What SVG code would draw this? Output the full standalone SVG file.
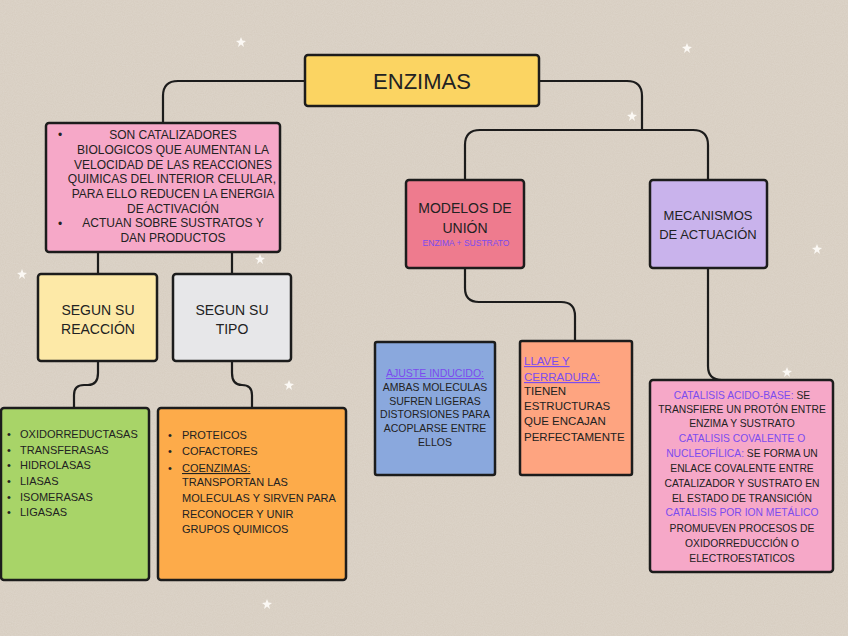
<svg xmlns="http://www.w3.org/2000/svg" width="848" height="636" viewBox="0 0 848 636">
<defs>
<style>
.bx{stroke:#1c1c1c;stroke-width:2.5}
.cn{fill:none;stroke:#1c1c1c;stroke-width:2.2;stroke-linecap:round}
text{font-family:"Liberation Sans",Arial,sans-serif;fill:#222}
.c{text-anchor:middle}
.p{fill:#7b4cef}
.u{text-decoration:underline}
.st{fill:#fbf8f4}
</style>
<filter id="grain" x="0" y="0" width="100%" height="100%">
<feTurbulence type="fractalNoise" baseFrequency="0.9" numOctaves="2" seed="3"/>
<feColorMatrix values="0 0 0 0 1  0 0 0 0 1  0 0 0 0 1  0 0 0 0.18 0"/>
</filter>
<symbol id="star" viewBox="-5 -5 10 10"><path class="st" d="M0,-5 L1.4,-1.4 L5,-1 L2,1.3 L3,5 L0,2.6 L-3,5 L-2,1.3 L-5,-1 L-1.4,-1.4Z"/></symbol>
</defs>
<rect width="848" height="636" fill="#d6ccbf"/>
<rect width="848" height="636" filter="url(#grain)"/>
<g id="decor">
<use href="#star" x="236" y="37" width="10" height="10"/>
<use href="#star" x="682" y="43" width="10" height="10"/>
<use href="#star" x="627" y="111" width="10" height="10"/>
<use href="#star" x="17" y="269" width="10" height="10"/>
<use href="#star" x="255" y="254" width="10" height="10"/>
<use href="#star" x="284" y="380" width="10" height="10"/>
<use href="#star" x="812" y="244" width="10" height="10"/>
<use href="#star" x="782" y="367" width="10" height="10"/>
<use href="#star" x="818" y="526" width="10" height="10"/>
<use href="#star" x="262" y="599" width="10" height="10"/>
</g>
<g id="connectors">
<path class="cn" d="M305,81 H178 Q163,81 163,96 V123"/>
<path class="cn" d="M539,81 H627 Q642,81 642,96 V130"/>
<path class="cn" d="M465,180 V145 Q465,130 480,130 H693 Q708,130 708,145 V180"/>
<path class="cn" d="M98,252 V274"/>
<path class="cn" d="M232,252 V274"/>
<path class="cn" d="M98,361 V373 Q98,385 88,385 H84 Q74,385 74,395 V408"/>
<path class="cn" d="M232,361 V373 Q232,385 242,385 Q252,385 252,395 V408"/>
<path class="cn" d="M465,268 V288 Q465,302 479,302 H561 Q575,302 575,316 V341"/>
<path class="cn" d="M708,268 V366 Q708,380 722,380"/>
</g>
<g id="enzimas">
<rect class="bx" x="305" y="55" width="234" height="51" rx="3" fill="#fbd462"/>
<text class="c" x="422" y="89" font-size="22">ENZIMAS</text>
</g>
<g id="definicion">
<rect class="bx" x="46" y="123" width="234" height="129" rx="3" fill="#f6a8c8"/>
<g font-size="12">
<text x="58" y="139">•</text>
<text x="58" y="228">•</text>
<text class="c" x="173" y="139">SON CATALIZADORES</text>
<text class="c" x="173" y="154">BIOLOGICOS QUE AUMENTAN LA</text>
<text class="c" x="173" y="169">VELOCIDAD DE LAS REACCIONES</text>
<text class="c" x="172" y="183">QUIMICAS DEL INTERIOR CELULAR,</text>
<text class="c" x="173" y="198">PARA ELLO REDUCEN LA ENERGIA</text>
<text class="c" x="173" y="213">DE ACTIVACIÓN</text>
<text class="c" x="173" y="227">ACTUAN SOBRE SUSTRATOS Y</text>
<text class="c" x="173" y="242">DAN PRODUCTOS</text>
</g>
</g>
<g id="segun-reaccion">
<rect class="bx" x="38" y="274" width="119" height="87" rx="3" fill="#fde9a7"/>
<text class="c" x="98" y="315" font-size="14">SEGUN SU</text>
<text class="c" x="98" y="334" font-size="14">REACCIÓN</text>
</g>
<g id="segun-tipo">
<rect class="bx" x="173" y="274" width="118" height="87" rx="3" fill="#e7e7e9"/>
<text class="c" x="232" y="315" font-size="14">SEGUN SU</text>
<text class="c" x="232" y="334" font-size="14">TIPO</text>
</g>
<g id="tipos-reaccion">
<rect class="bx" x="1" y="408" width="148" height="172" rx="3" fill="#a8d468"/>
<g font-size="11">
<text x="7" y="438">•</text><text x="20" y="438">OXIDORREDUCTASAS</text>
<text x="7" y="454">•</text><text x="20" y="454">TRANSFERASAS</text>
<text x="7" y="469">•</text><text x="20" y="469">HIDROLASAS</text>
<text x="7" y="485">•</text><text x="20" y="485">LIASAS</text>
<text x="7" y="501">•</text><text x="20" y="501">ISOMERASAS</text>
<text x="7" y="516">•</text><text x="20" y="516">LIGASAS</text>
</g>
</g>
<g id="tipos">
<rect class="bx" x="158" y="408" width="188" height="172" rx="3" fill="#fdab4a"/>
<g font-size="11">
<text x="168" y="439">•</text><text x="182" y="439">PROTEICOS</text>
<text x="168" y="455">•</text><text x="182" y="455">COFACTORES</text>
<text x="168" y="472">•</text><text class="u" x="182" y="472">COENZIMAS:</text>
<text x="182" y="486">TRANSPORTAN LAS</text>
<text x="182" y="502">MOLECULAS Y SIRVEN PARA</text>
<text x="182" y="518">RECONOCER Y UNIR</text>
<text x="182" y="533">GRUPOS QUIMICOS</text>
</g>
</g>
<g id="modelos">
<rect class="bx" x="406" y="180" width="118" height="88" rx="3" fill="#ee7b8e"/>
<text class="c" x="465" y="213" font-size="14">MODELOS DE</text>
<text class="c" x="465" y="233" font-size="14">UNIÓN</text>
<text class="c p" x="466" y="246" font-size="8.5">ENZIMA + SUSTRATO</text>
</g>
<g id="mecanismos">
<rect class="bx" x="650" y="180" width="117" height="88" rx="3" fill="#c9b3ec"/>
<text class="c" x="708" y="220" font-size="13">MECANISMOS</text>
<text class="c" x="708" y="239" font-size="13">DE ACTUACIÓN</text>
</g>
<g id="ajuste">
<rect class="bx" x="375" y="342" width="120" height="133" rx="2" fill="#8aa8dd"/>
<g font-size="10.5">
<text class="c p u" x="435" y="377">AJUSTE INDUCIDO:</text>
<text class="c" x="435" y="391">AMBAS MOLECULAS</text>
<text class="c" x="435" y="405">SUFREN LIGERAS</text>
<text class="c" x="435" y="418">DISTORSIONES PARA</text>
<text class="c" x="435" y="432">ACOPLARSE ENTRE</text>
<text class="c" x="435" y="446">ELLOS</text>
</g>
</g>
<g id="llave">
<rect class="bx" x="520" y="341" width="112" height="134" rx="2" fill="#fea480"/>
<g font-size="11.5">
<text class="p u" x="524" y="365">LLAVE Y</text>
<text class="p u" x="524" y="381">CERRADURA:</text>
<text x="524" y="395">TIENEN</text>
<text x="524" y="410">ESTRUCTURAS</text>
<text x="524" y="425">QUE ENCAJAN</text>
<text x="524" y="441">PERFECTAMENTE</text>
</g>
</g>
<g id="catalisis">
<rect class="bx" x="650" y="380" width="183" height="192" rx="3" fill="#f6a8c8"/>
<g font-size="10.3">
<text class="c" x="742" y="399"><tspan class="p">CATALISIS ACIDO-BASE:</tspan> SE</text>
<text class="c" x="742" y="413">TRANSFIERE UN PROTÓN ENTRE</text>
<text class="c" x="742" y="427">ENZIMA Y SUSTRATO</text>
<text class="c p" x="742" y="442">CATALISIS COVALENTE O</text>
<text class="c" x="742" y="457"><tspan class="p">NUCLEOFÍLICA:</tspan> SE FORMA UN</text>
<text class="c" x="742" y="472">ENLACE COVALENTE ENTRE</text>
<text class="c" x="742" y="487">CATALIZADOR Y SUSTRATO EN</text>
<text class="c" x="742" y="502">EL ESTADO DE TRANSICIÓN</text>
<text class="c p" x="742" y="516">CATALISIS POR ION METÁLICO</text>
<text class="c" x="742" y="532">PROMUEVEN PROCESOS DE</text>
<text class="c" x="742" y="547">OXIDORREDUCCIÓN O</text>
<text class="c" x="742" y="562">ELECTROESTATICOS</text>
</g>
</g>
</svg>
